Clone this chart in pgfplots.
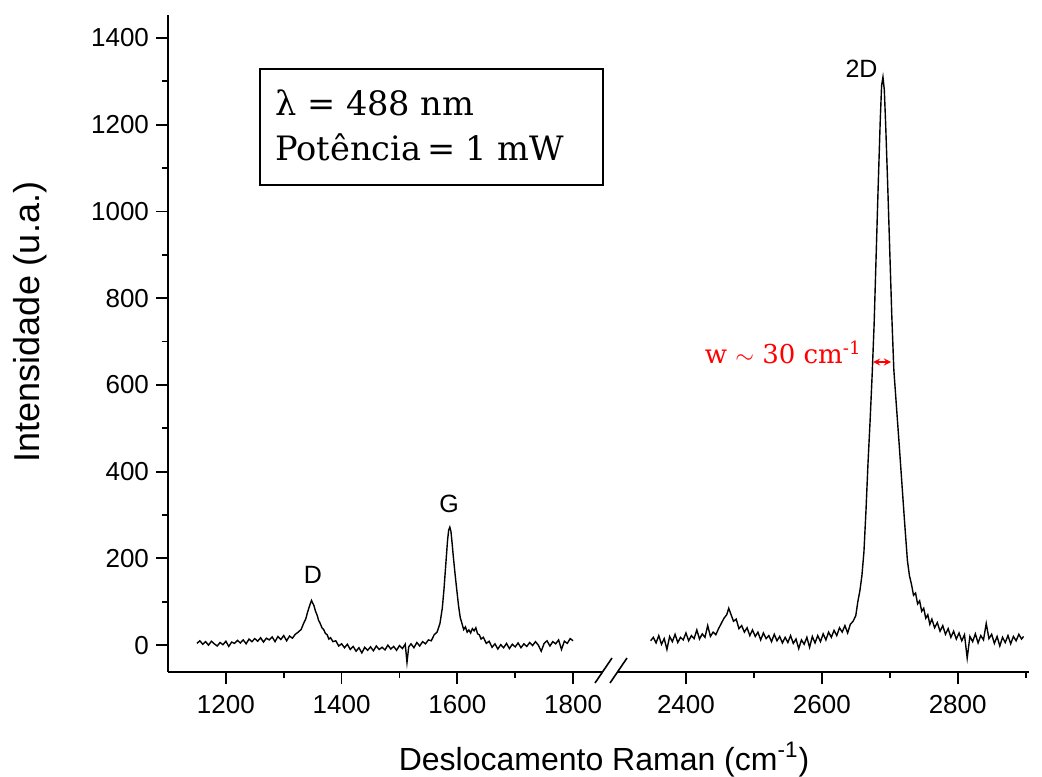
\documentclass[border=0pt]{standalone}
\usepackage{pgfplots}
\pgfplotsset{compat=1.18}
\usepackage{fontspec}
\newfontfamily\arial{Liberation Sans}
\newfontfamily\cam{DejaVu Serif}
\begin{document}
\begin{tikzpicture}
\useasboundingbox (0,0) rectangle (521pt,-388pt);
\pgfplotsset{
  brk/.style={
    scale only axis, height=328.5pt,
    ymin=-62, ymax=1453,
    axis x line*=bottom,
    axis line style={-, line width=0.9pt},
    tick align=outside,
    major tick length=6pt, minor tick length=3pt,
    every tick/.style={black, line width=0.9pt},
    tick label style={font=\arial\fontsize{13}{15}\selectfont},
    xticklabel style={yshift=-2pt},
    /pgf/number format/assume math mode=true,
    /pgf/number format/1000 sep={},
    anchor=south west,
    clip=false,
  }
}
\begin{axis}[brk, at={(84pt,-336pt)}, width=217pt, xmin=1100, xmax=1850,
  axis y line*=left,
  xtick={1200,1400,1600,1800}, minor xtick={1300,1500,1700},
  ytick={0,200,...,1400}, minor ytick={100,300,...,1300}]
\addplot[black, line width=0.7pt] coordinates {
(1150,4) (1155,10) (1160,2) (1165,8) (1170,0) (1175,9) (1180,3) (1185,-2) (1190,6) (1195,1)
(1200,9) (1205,-3) (1210,7) (1215,4) (1220,11) (1225,5) (1230,12) (1235,3) (1240,14) (1245,8)
(1250,15) (1255,9) (1260,17) (1265,7) (1270,16) (1275,12) (1280,19) (1285,8) (1290,20) (1295,13)
(1300,22) (1305,10) (1310,21) (1315,16) (1320,25) (1325,30) (1330,36) (1335,52) (1338,60) (1341,75)
(1344,88) (1346,96) (1348,103) (1350,97) (1352,92) (1355,78) (1358,68) (1360,58) (1363,50) (1366,40)
(1369,36) (1372,27) (1375,24) (1378,14) (1381,17) (1385,8) (1390,10) (1395,-2) (1400,3) (1405,-6)
(1410,2) (1415,-10) (1420,-3) (1425,-14) (1430,-6) (1435,-18) (1440,-5) (1445,-12) (1450,-4) (1455,-13)
(1460,-2) (1465,-10) (1470,-5) (1475,-11) (1480,0) (1485,-9) (1490,-3) (1495,-12) (1500,-1) (1505,-8)
(1510,2) (1513,-40) (1516,-4) (1520,3) (1525,-6) (1530,6) (1535,-2) (1540,8) (1545,3) (1550,12)
(1555,10) (1560,24) (1565,30) (1570,50) (1574,85) (1577,130) (1580,185) (1583,240) (1585,265) (1587,272)
(1589,262) (1591,235) (1593,205) (1596,165) (1599,128) (1602,92) (1605,64) (1608,50) (1611,36) (1614,42)
(1617,30) (1620,35) (1623,28) (1626,38) (1629,33) (1632,40) (1635,26) (1638,24) (1641,14) (1645,18)
(1650,4) (1655,9) (1660,-5) (1665,3) (1670,-9) (1675,1) (1680,-6) (1685,4) (1690,-8) (1695,2)
(1700,-4) (1705,5) (1710,-6) (1715,3) (1720,-3) (1725,6) (1730,-1) (1735,8) (1740,0) (1745,-14)
(1750,4) (1755,10) (1760,-2) (1765,8) (1770,3) (1775,12) (1780,-10) (1785,9) (1790,4) (1795,15)
(1800,10)
};
\end{axis}
\begin{axis}[brk, at={(309pt,-336pt)}, width=205.5pt, xmin=2300, xmax=2905,
  axis y line=none,
  xtick={2400,2600,2800}, minor xtick={2500,2700,2900}]
\addplot[black, line width=0.7pt] coordinates {
(2348,10) (2352,18) (2356,5) (2360,22) (2364,2) (2368,15) (2372,-10) (2376,20) (2380,8) (2384,25)
(2388,6) (2392,18) (2396,12) (2400,28) (2404,10) (2408,22) (2412,15) (2416,35) (2420,14) (2424,26)
(2428,18) (2432,45) (2436,20) (2440,30) (2444,24) (2448,38) (2452,50) (2456,62) (2460,70) (2463,85)
(2466,72) (2470,55) (2474,60) (2478,38) (2482,45) (2486,30) (2490,40) (2494,22) (2498,35) (2502,20)
(2506,30) (2510,12) (2514,28) (2518,15) (2522,22) (2526,8) (2530,25) (2534,10) (2538,20) (2542,5)
(2546,18) (2550,6) (2554,22) (2558,4) (2562,14) (2566,-8) (2570,12) (2574,2) (2578,18) (2582,-5)
(2586,20) (2590,5) (2594,22) (2598,8) (2602,26) (2606,12) (2610,30) (2614,18) (2618,34) (2622,22)
(2626,40) (2630,30) (2634,45) (2638,28) (2642,48) (2646,55) (2650,68) (2653,100) (2656,125) (2659,160)
(2662,215) (2665,310) (2668,420) (2671,515) (2674,620) (2677,740) (2680,900) (2683,1060) (2686,1210) (2688,1290)
(2690,1310) (2692,1280) (2694,1200) (2697,1060) (2700,910) (2703,760) (2706,635) (2710,547) (2714,460) (2718,370)
(2722,280) (2726,195) (2729,160) (2732,140) (2735,115) (2738,120) (2741,95) (2744,102) (2747,78) (2750,85)
(2753,62) (2756,70) (2759,48) (2762,60) (2766,40) (2770,52) (2774,32) (2778,45) (2782,25) (2786,38)
(2790,18) (2794,32) (2798,14) (2802,28) (2806,10) (2810,24) (2814,-30) (2818,20) (2822,8) (2826,26)
(2830,5) (2834,22) (2838,12) (2842,50) (2846,15) (2850,25) (2854,4) (2858,20) (2862,-2) (2866,18)
(2870,6) (2874,22) (2878,3) (2882,20) (2886,10) (2890,25) (2894,14) (2897,20)
};
\end{axis}
% axis break marks
\draw[line width=0.8pt] (297.5pt,-341.5pt) -- (306pt,-329pt);
\draw[line width=0.8pt] (305pt,-341.5pt) -- (313.5pt,-329pt);
% peak labels
\node[font=\arial\fontsize{12.5}{14}\selectfont, anchor=base, inner sep=0] at (156.5pt,-291.5pt) {D};
\node[font=\arial\fontsize{12.5}{14}\selectfont, anchor=base, inner sep=0] at (224.5pt,-256pt) {G};
\node[font=\arial\fontsize{12.5}{14}\selectfont, anchor=base, inner sep=0] at (430.75pt,-38.5pt) {2D};
% info box
\draw[line width=0.9pt] (130pt,-34.5pt) rectangle (301.5pt,-92.5pt);
\node[anchor=base west, inner sep=0] at (137.5pt,-57.5pt) {\cam\fontsize{16.8}{20}\selectfont λ = 488 nm};
\node[anchor=base west, inner sep=0] at (137.5pt,-80pt) {\cam\fontsize{16.8}{20}\selectfont Potência\,= 1 mW};
% width annotation
\node[anchor=base east, inner sep=0, text=red] at (431pt,-181.5pt) {\cam\fontsize{13}{15}\selectfont w $\sim$ 30 cm\textsuperscript{-1}};
\draw[red, line width=0.6pt, <->, >=stealth] (436.5pt,-181pt) -- (445.5pt,-181pt);
% axis labels
\node[anchor=base, inner sep=0, font=\arial\fontsize{16}{19}\selectfont] at (302pt,-385pt) {Deslocamento Raman (cm\textsuperscript{-1})};
\node[rotate=90, anchor=center, inner sep=0, font=\arial\fontsize{18}{21}\selectfont] at (15pt,-161pt) {Intensidade (u.a.)};
\end{tikzpicture}
\end{document}
